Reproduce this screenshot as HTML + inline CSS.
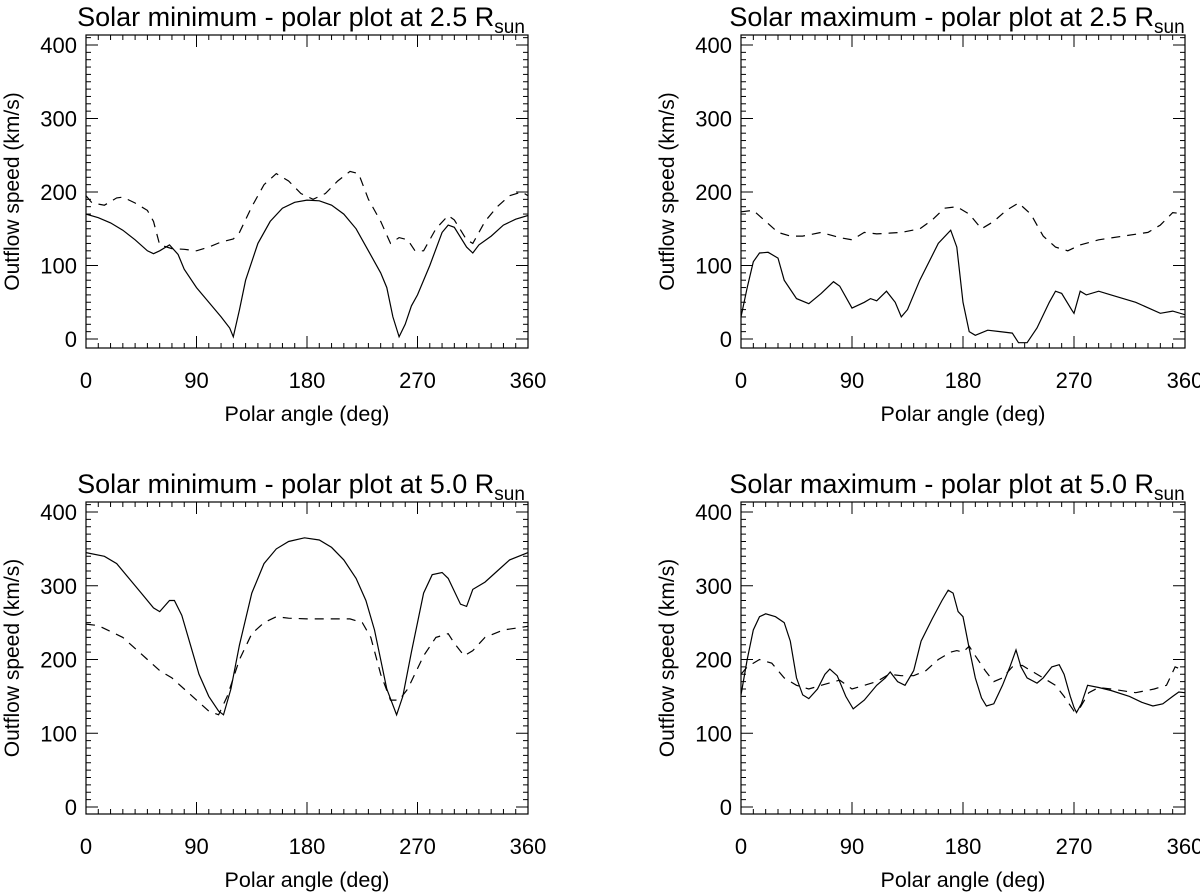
<!DOCTYPE html>
<html><head><meta charset="utf-8"><style>
html,body{margin:0;padding:0;background:#fff;}
svg{display:block;font-family:"Liberation Sans",sans-serif;}
</style></head><body>
<svg id="fig" width="1200" height="892" viewBox="0 0 1200 892" xmlns="http://www.w3.org/2000/svg"></svg>
<script>
// x-axis ticks / y-axis ticks
const xTicks = [0, 90, 180, 270, 360];
const yTicks = [0, 100, 200, 300, 400];

// Panel A: Solar minimum 2.5 Rsun
const minA_solid_x = [0,10,20,30,40,50,55,60,68,75,80,90,100,110,117,120,125,130,140,150,160,170,180,190,200,210,220,230,240,245,250,255,260,265,270,280,290,295,300,310,315,320,330,340,350,360];
const minA_solid_y = [170,165,158,148,135,120,116,120,128,115,95,70,50,30,15,3,40,80,130,160,178,186,189,188,182,170,150,120,90,70,30,3,20,45,60,100,145,155,152,125,117,128,140,155,163,168];
const minA_dash_x = [0,5,15,25,30,40,50,55,60,70,80,90,100,110,120,125,135,145,155,165,175,185,195,205,215,222,230,240,248,255,262,268,275,285,295,300,310,315,325,335,345,355,360];
const minA_dash_y = [195,185,182,192,193,185,175,160,128,123,122,120,125,132,136,145,180,210,225,215,198,190,198,215,228,225,190,160,130,138,135,120,120,150,168,162,135,130,160,180,195,200,195];

// Panel B: Solar maximum 2.5 Rsun
const maxA_solid_x = [0,5,10,15,22,30,35,45,55,65,75,80,90,100,105,110,118,125,130,135,145,160,170,175,180,185,190,200,210,220,225,232,240,250,255,260,268,270,275,280,290,300,320,340,350,360];
const maxA_solid_y = [30,70,105,117,118,110,80,55,48,62,78,72,42,50,55,52,65,50,30,40,80,130,148,125,50,10,5,12,10,8,-5,-5,15,50,65,62,40,35,65,60,65,60,50,35,38,33];
const maxA_dash_x = [0,10,20,30,40,50,65,80,90,100,110,130,145,155,165,175,185,195,205,215,225,235,245,255,265,275,290,310,330,340,350,360];
const maxA_dash_y = [173,175,160,145,140,140,145,138,135,145,143,145,150,162,178,180,170,150,160,175,185,170,140,125,120,128,135,140,145,155,172,170];

// Panel C: Solar minimum 5.0 Rsun
const minB_solid_x = [0,15,25,35,45,55,60,68,72,78,85,92,100,108,112,118,125,135,145,155,165,178,190,200,210,220,228,235,245,253,258,265,270,275,282,290,295,305,310,315,325,335,345,360];
const minB_solid_y = [345,340,330,310,290,270,265,280,280,260,220,180,150,130,125,160,220,290,330,350,360,365,362,352,335,310,280,240,160,125,150,210,250,290,315,318,310,275,272,295,305,320,335,345];
const minB_dash_x = [0,10,20,30,40,50,60,70,80,90,100,108,115,125,135,145,155,165,180,200,215,225,232,240,248,255,262,275,285,295,300,308,315,325,340,360];
const minB_dash_y = [248,246,238,230,215,200,185,175,160,145,130,125,150,200,235,250,258,256,255,255,255,250,230,180,145,145,160,205,230,235,222,205,212,230,240,245];

// Panel D: Solar maximum 5.0 Rsun
const maxB_solid_x = [0,5,10,15,20,28,35,40,45,50,55,62,68,72,78,85,91,100,110,117,121,127,133,140,146,155,163,168,172,176,180,185,190,195,199,205,212,218,223,227,232,240,245,252,258,262,267,270,272,276,281,290,300,315,325,334,342,350,355,360];
const maxB_solid_y = [152,200,240,258,262,258,250,225,175,152,147,160,180,187,178,150,133,145,165,175,183,170,165,185,225,255,280,294,290,265,258,215,175,148,137,140,165,190,213,190,175,168,175,190,193,180,150,135,128,140,165,162,158,150,142,137,140,150,156,155];
const maxB_dash_x = [0,5,15,25,35,45,55,65,80,90,100,110,120,130,140,150,160,170,175,180,185,190,198,205,212,220,228,235,245,255,262,270,275,282,290,300,320,335,345,352,360];
const maxB_dash_y = [180,190,200,195,175,165,160,165,172,160,165,170,180,178,178,185,200,210,212,210,218,205,185,170,175,190,192,185,175,165,150,130,135,155,162,160,155,160,165,190,185];

const NS = "http://www.w3.org/2000/svg";
const svg = document.getElementById('fig');
function el(tag, attrs, parent, text){
  const e = document.createElementNS(NS, tag);
  for (const k in attrs) e.setAttribute(k, attrs[k]);
  if (text !== undefined) e.textContent = text;
  (parent||svg).appendChild(e);
  return e;
}

const panels = [
  {name:'min-2-5', title:'Solar minimum - polar plot at 2.5 R', left:86, right:528, top:35, bottom:348, y0:339, y400:45, sx:minA_solid_x, sy:minA_solid_y, dx:minA_dash_x, dy:minA_dash_y},
  {name:'max-2-5', title:'Solar maximum - polar plot at 2.5 R', left:741, right:1185, top:35, bottom:348, y0:339, y400:45, sx:maxA_solid_x, sy:maxA_solid_y, dx:maxA_dash_x, dy:maxA_dash_y},
  {name:'min-5-0', title:'Solar minimum - polar plot at 5.0 R', left:86, right:528, top:502, bottom:814, y0:807, y400:512, sx:minB_solid_x, sy:minB_solid_y, dx:minB_dash_x, dy:minB_dash_y},
  {name:'max-5-0', title:'Solar maximum - polar plot at 5.0 R', left:741, right:1185, top:502, bottom:814, y0:807, y400:512, sx:maxB_solid_x, sy:maxB_solid_y, dx:maxB_dash_x, dy:maxB_dash_y}
];

panels.forEach(p => {
  const g = el('g', {});
  
  
  const X = v => p.left + (v/360)*(p.right-p.left);
  const Y = v => p.y0 - (v/400)*(p.y0-p.y400);
  const cx = (p.left+p.right)/2;

  const t = el('text', {x:cx-6, y:p.top-9, 'text-anchor':'middle', 'font-size':27, fill:'#000'}, g);
  
  
  el('tspan', {}, t, p.title);
  el('tspan', {'font-size':19, dy:7}, t, 'sun');

  const cid = 'clip-' + p.name;
  const cp = el('clipPath', {id:cid}, g);
  el('rect', {x:p.left, y:p.top, width:p.right-p.left, height:p.bottom-p.top}, cp);

  const tk = el('g', {stroke:'#000','stroke-width':1}, g);
  
  
  for (let v=0; v<=360; v+=10){
    const major = v%90===0, len = major?12:5, x = X(v);
    el('line', {x1:x, y1:p.bottom, x2:x, y2:p.bottom-len}, tk);
    el('line', {x1:x, y1:p.top, x2:x, y2:p.top+len}, tk);
  }
  for (let v=0; v<=410; v+=10){
    const y = Y(v); if (y < p.top) continue;
    const major = v%100===0, len = major?12:5;
    el('line', {x1:p.left, y1:y, x2:p.left+len, y2:y}, tk);
    el('line', {x1:p.right, y1:y, x2:p.right-len, y2:y}, tk);
  }
  const fr = el('rect', {x:p.left, y:p.top, width:p.right-p.left, height:p.bottom-p.top, fill:'none', stroke:'#000', 'stroke-width':1.2}, g);
  
  

  xTicks.forEach(v => {
    const l = el('text', {x:X(v), y:p.bottom+40, 'text-anchor':'middle', 'font-size':22}, g, String(v));
    
    
  });
  yTicks.forEach(v => {
    const l = el('text', {x:p.left-9, y:Y(v)+8, 'text-anchor':'end', 'font-size':22}, g, String(v));
    
    
  });
  const xt = el('text', {x:cx, y:p.bottom+73, 'text-anchor':'middle', 'font-size':21.5}, g, 'Polar angle (deg)');
  
  
  const yc = (p.top+p.bottom)/2;
  const yx = p.left-67;
  const yt = el('text', {x:yx, y:yc, 'text-anchor':'middle', 'font-size':21, transform:'rotate(-90 '+yx+' '+yc+')'}, g, 'Outflow speed (km/s)');
  
  

  const pts = (xs, ys) => xs.map((x,i)=>X(x).toFixed(1)+','+Y(ys[i]).toFixed(1)).join(' ');
  const s = el('polyline', {points:pts(p.sx,p.sy), fill:'none', stroke:'#000', 'stroke-width':1.2, 'clip-path':'url(#'+cid+')'}, g);
  
  
  const d = el('polyline', {points:pts(p.dx,p.dy), fill:'none', stroke:'#000', 'stroke-width':1.2, 'stroke-dasharray':'9,7', 'clip-path':'url(#'+cid+')'}, g);
  
  
});
</script>
</body></html>
